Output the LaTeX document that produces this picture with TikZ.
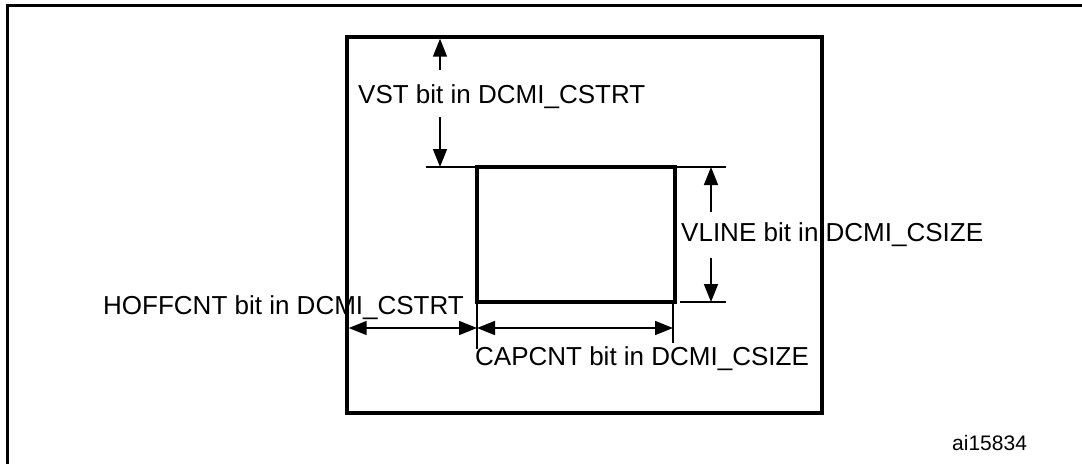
\documentclass[tikz,border=0pt]{standalone}
\usepackage{fontspec}
\setmainfont{Liberation Sans}
\usetikzlibrary{arrows.meta}
\begin{document}
\begin{tikzpicture}[x=1pt,y=-1pt,
  thick frame/.style={line width=3.3pt},
  thin line/.style={line width=1.6pt},
  dim/.style={line width=1.6pt,-{Triangle[length=18pt,width=14pt]}},
  dimboth/.style={line width=1.6pt,{Triangle[length=18pt,width=14pt]}-{Triangle[length=18pt,width=14pt]}},
  lbl/.style={inner sep=0pt,anchor=base west,font=\fontsize{26}{30}\selectfont},
  small/.style={inner sep=0pt,anchor=base west,font=\fontsize{21}{25}\selectfont}]
\useasboundingbox (0,0) rectangle (1082,464);
% outer frame (top and left edges visible)
\coordinate (oBL) at (7.5,464);
\coordinate (oTL) at (7.5,5.5);
\coordinate (oTR) at (1082,5.5);
\draw[thick frame] (oBL) -- (oTL) -- (oTR);
% sensor frame
\coordinate (fTL) at (347,37);
\coordinate (fBR) at (822,413);
\draw[thick frame] (fTL) rectangle (fBR);
% capture window
\coordinate (cTL) at (477,167);
\coordinate (cBR) at (675,302);
\draw[thick frame] (cTL) rectangle (cBR);
% extension lines
\coordinate (eVST) at (426,167);
\coordinate (eVLt1) at (675,167);
\coordinate (eVLt2) at (726,167);
\coordinate (eVLb1) at (680,302);
\coordinate (eVLb2) at (726,302);
\coordinate (eHa) at (477,302);
\coordinate (eHb) at (477,349);
\coordinate (eCa) at (673,302);
\coordinate (eCb) at (673,343);
\draw[thin line] (eVST) -- (cTL);
\draw[thin line] (eVLt1) -- (eVLt2);
\draw[thin line] (eVLb1) -- (eVLb2);
\draw[thin line] (eHa) -- (eHb);
\draw[thin line] (eCa) -- (eCb);
% VST arrows
\coordinate (vA1) at (440,70);
\coordinate (vA2) at (440,38.7);
\coordinate (vB1) at (440,117);
\coordinate (vB2) at (440,167);
\draw[dim] (vA1) -- (vA2);
\draw[dim] (vB1) -- (vB2);
\node[lbl] (vst) at (358,103.5) {VST bit in DCMI\_CSTRT};
% VLINE arrows
\coordinate (lA1) at (711,212);
\coordinate (lA2) at (711,167);
\coordinate (lB1) at (711,258);
\coordinate (lB2) at (711,302);
\draw[dim] (lA1) -- (lA2);
\draw[dim] (lB1) -- (lB2);
\node[lbl] (vline) at (681,241) {VLINE bit in DCMI\_CSIZE};
% HOFFCNT arrow
\coordinate (hA) at (348.7,328);
\coordinate (hB) at (477,328);
\draw[dimboth] (hA) -- (hB);
\node[lbl] (hoff) at (103,314) {HOFFCNT bit in DCMI\_CSTRT};
% CAPCNT arrow
\coordinate (cA) at (477,328);
\coordinate (cB) at (673,328);
\draw[dimboth] (cA) -- (cB);
\node[lbl] (capcnt) at (475,365) {CAPCNT bit in DCMI\_CSIZE};
% figure id
\node[small] (aid) at (952,450) {ai15834};
\end{tikzpicture}
\end{document}
